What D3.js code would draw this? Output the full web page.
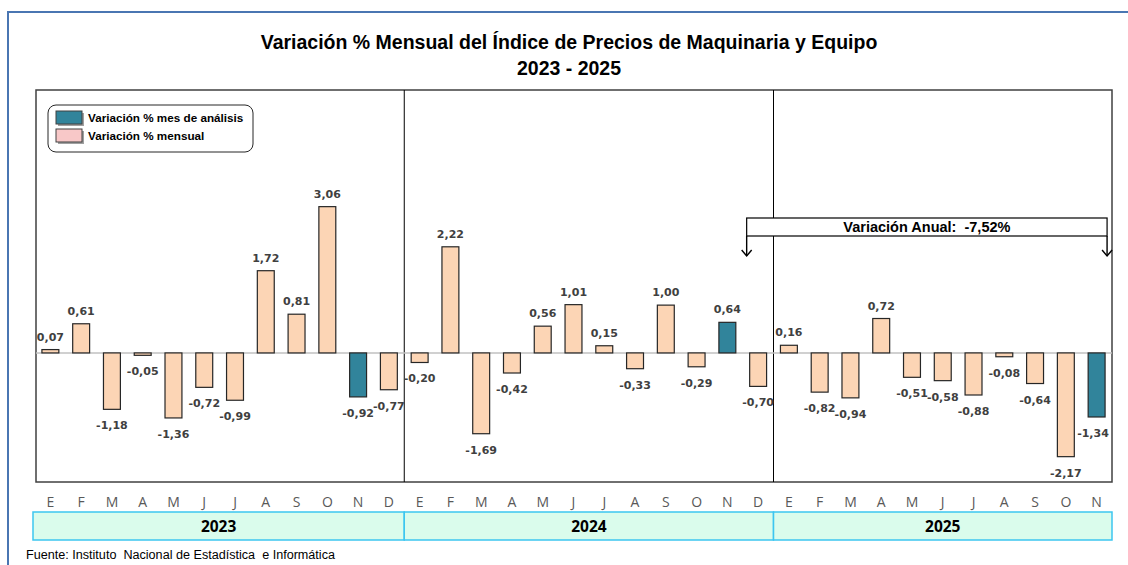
<!DOCTYPE html>
<html>
<head>
<meta charset="utf-8">
<script src="https://d3js.org/d3.v7.min.js"></script>
<style>
  body { margin: 0; background: #fff; }
  svg { display: block; }
  text { white-space: pre; }
</style>
</head>
<body>
<svg id="chart" width="1128" height="565"></svg>
<script>
// data
const years = ['2023', '2024', '2025'];
const months = ['E', 'F', 'M', 'A', 'M', 'J', 'J', 'A', 'S', 'O', 'N', 'D'];
const values2023 = [0.07, 0.61, -1.18, -0.05, -1.36, -0.72, -0.99, 1.72, 0.81, 3.06, -0.92, -0.77];
const values2024 = [-0.20, 2.22, -1.69, -0.42, 0.56, 1.01, 0.15, -0.33, 1.00, -0.29, 0.64, -0.70];
const values2025 = [0.16, -0.82, -0.94, 0.72, -0.51, -0.58, -0.88, -0.08, -0.64, -2.17, -1.34];
const analysisMonth = 10; // N
const legendLabels = ['Variación % mes de análisis', 'Variación % mensual'];
const annualLabel = 'Variación Anual:  -7,52%';
const annualFrom = '2024-11';
const annualTo = '2025-10';

const rows = [];
[values2023, values2024, values2025].forEach((vals, yi) => {
  vals.forEach((v, i) => {
    rows.push({ key: years[yi] + '-' + i, year: years[yi], month: months[i], value: v, hl: i === analysisMonth });
  });
});

const svg = d3.select('#chart');
const plot = { left: 35, right: 1112, top: 90, bottom: 482 };

const x = d3.scaleBand()
  .domain(rows.map(d => d.key))
  .range([plot.left, plot.right])
  .paddingInner(0.45)
  .paddingOuter(0.225);

const y = d3.scaleLinear()
  .domain([-2.7, 5.5])
  .range([plot.bottom, plot.top]);

const fmt = v => d3.format('.2f')(v).replace('.', ',').replace('\u2212', '-');

// outer frame
svg.append('rect')
  .attr('x', 8).attr('y', 12)
  .attr('width', 1200).attr('height', 600)
  .attr('fill', 'none')
  .attr('stroke', '#4a76b2')
  .attr('stroke-width', 2);

// title
svg.append('text')
  .attr('x', 569).attr('y', 49)
  .attr('text-anchor', 'middle')
  .attr('font-family', 'Liberation Sans, Arial, sans-serif')
  .attr('font-weight', 'bold')
  .attr('font-size', 19.5)
  .text('Variación % Mensual del Índice de Precios de Maquinaria y Equipo');
svg.append('text')
  .attr('x', 569).attr('y', 75)
  .attr('text-anchor', 'middle')
  .attr('font-family', 'Liberation Sans, Arial, sans-serif')
  .attr('font-weight', 'bold')
  .attr('font-size', 19.5)
  .text('2023 - 2025');

// plot box
svg.append('rect')
  .attr('x', plot.left + 1).attr('y', plot.top)
  .attr('width', plot.right - plot.left - 1).attr('height', plot.bottom - plot.top)
  .attr('fill', 'none')
  .attr('stroke', '#404040')
  .attr('stroke-width', 1.5);

// year separators
const yearStarts = years.slice(1).map(yr => x(yr + '-0') - x.step() * x.paddingInner() / 2);
svg.selectAll('.sep')
  .data(yearStarts)
  .enter().append('line')
  .attr('x1', d => d).attr('x2', d => d)
  .attr('y1', plot.top).attr('y2', plot.bottom)
  .attr('stroke', '#000')
  .attr('stroke-width', 1);

// zero line
svg.append('line')
  .attr('x1', plot.left + 1).attr('x2', plot.right)
  .attr('y1', y(0)).attr('y2', y(0))
  .attr('stroke', '#c0c0c0')
  .attr('stroke-width', 1.6);

// bars
svg.selectAll('.bar')
  .data(rows)
  .enter().append('rect')
  .attr('class', 'bar')
  .attr('x', d => x(d.key))
  .attr('width', x.bandwidth())
  .attr('y', d => y(Math.max(0, d.value)))
  .attr('height', d => Math.abs(y(d.value) - y(0)))
  .attr('fill', d => d.hl ? '#31849b' : '#fcd5b5')
  .attr('stroke', '#262626')
  .attr('stroke-width', 1.2);

// value labels
svg.selectAll('.lbl')
  .data(rows)
  .enter().append('text')
  .attr('class', 'lbl')
  .attr('x', d => Math.min(x(d.key) + x.bandwidth() / 2, plot.right - 19))
  .attr('y', d => d.value >= 0 ? y(d.value) - 9 : y(d.value) + 20)
  .attr('text-anchor', 'middle')
  .attr('font-family', 'DejaVu Sans, Verdana, sans-serif')
  .attr('font-weight', 'bold')
  .attr('font-size', 11)
  .attr('fill', '#404040')
  .text(d => fmt(d.value));

// month labels
svg.selectAll('.mon')
  .data(rows)
  .enter().append('text')
  .attr('x', d => x(d.key) + x.bandwidth() / 2)
  .attr('y', 507)
  .attr('text-anchor', 'middle')
  .attr('font-family', 'Open Sans, sans-serif')
  .attr('font-size', 14)
  .attr('fill', '#595959')
  .text(d => d.month);

// year band
const yearBand = years.map(yr => {
  const keys = rows.filter(d => d.year === yr).map(d => d.key);
  const half = x.step() * x.paddingInner() / 2;
  return {
    year: yr,
    x0: x(keys[0]) - half,
    x1: x(keys[keys.length - 1]) + x.bandwidth() + half
  };
});
yearBand[0].x0 = plot.left - 2;
yearBand[yearBand.length - 1].x1 = plot.right;

svg.selectAll('.yband')
  .data(yearBand)
  .enter().append('rect')
  .attr('x', d => d.x0)
  .attr('y', 512)
  .attr('width', d => d.x1 - d.x0)
  .attr('height', 28)
  .attr('fill', '#dafcec')
  .attr('stroke', '#3cc6f0')
  .attr('stroke-width', 1.5);

svg.selectAll('.ylbl')
  .data(yearBand)
  .enter().append('text')
  .attr('x', d => (d.x0 + d.x1) / 2)
  .attr('y', 532)
  .attr('text-anchor', 'middle')
  .attr('font-family', 'Open Sans, sans-serif')
  .attr('font-weight', 'bold')
  .attr('font-size', 15.5)
  .attr('fill', '#000')
  .text(d => d.year);

// legend
const lg = svg.append('g');
lg.append('rect')
  .attr('x', 48).attr('y', 105)
  .attr('width', 205).attr('height', 47)
  .attr('rx', 8)
  .attr('fill', '#fff')
  .attr('stroke', '#262626')
  .attr('stroke-width', 1);
const legendFills = ['#31849b', '#f8c8c8'];
legendLabels.forEach((t, i) => {
  const ly = 111 + i * 18;
  lg.append('rect')
    .attr('x', 58).attr('y', ly + 2)
    .attr('width', 26).attr('height', 13)
    .attr('fill', '#a0a0a0');
  lg.append('rect')
    .attr('x', 56).attr('y', ly)
    .attr('width', 26).attr('height', 13)
    .attr('fill', legendFills[i])
    .attr('stroke', '#404040')
    .attr('stroke-width', 1);
  lg.append('text')
    .attr('x', 88).attr('y', ly + 11)
    .attr('font-family', 'Liberation Sans, Arial, sans-serif')
    .attr('font-weight', 'bold')
    .attr('font-size', 11.7)
    .attr('fill', '#000')
    .text(t);
});

// annual variation bracket
const ax0 = x(annualFrom) - 3;
const ax1 = x(annualTo) + x.bandwidth() + 2;
const ag = svg.append('g');
ag.append('rect')
  .attr('x', ax0).attr('y', 218)
  .attr('width', ax1 - ax0).attr('height', 18)
  .attr('fill', '#fff')
  .attr('stroke', '#000')
  .attr('stroke-width', 1.2);
ag.append('text')
  .attr('x', (ax0 + ax1) / 2).attr('y', 232)
  .attr('text-anchor', 'middle')
  .attr('font-family', 'Liberation Sans, Arial, sans-serif')
  .attr('font-weight', 'bold')
  .attr('font-size', 14.5)
  .attr('fill', '#000')
  .text(annualLabel);
[ax0, ax1].forEach(ax => {
  ag.append('line')
    .attr('x1', ax).attr('x2', ax)
    .attr('y1', 236).attr('y2', 256)
    .attr('stroke', '#000').attr('stroke-width', 1.4);
  ag.append('path')
    .attr('d', `M${ax - 5},${250} L${ax},${256} L${ax + 5},${250}`)
    .attr('fill', 'none')
    .attr('stroke', '#000').attr('stroke-width', 1.4);
});

// source
svg.append('text')
  .attr('x', 26).attr('y', 559)
  .attr('font-family', 'Liberation Sans Narrow, Liberation Sans, Arial, sans-serif')
  .attr('font-size', 12.5)
  .attr('textLength', 309)
  .attr('lengthAdjust', 'spacingAndGlyphs')
  .attr('fill', '#000')
  .text('Fuente: Instituto  Nacional de Estadística  e Informática');
</script>
</body>
</html>
